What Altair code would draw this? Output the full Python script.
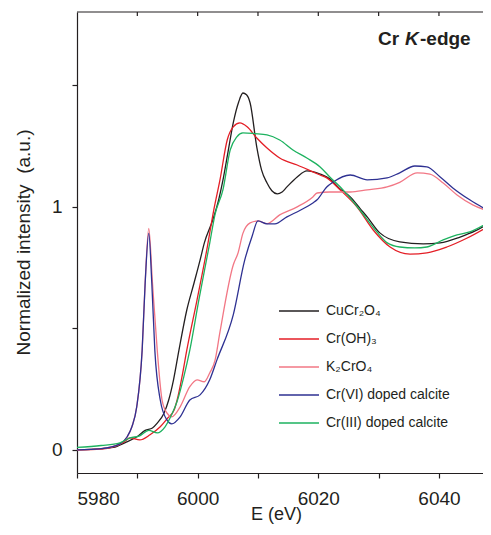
import altair as alt
import pandas as pd

# ---------------- data ----------------
series_names = ["CuCr₂O₄", "Cr(OH)₃", "K₂CrO₄", "Cr(VI) doped calcite", "Cr(III) doped calcite"]
series_colors = ["#231f20", "#e41e26", "#f27785", "#2e3192", "#1db25f"]

cucr2o4_e = [5980, 5984, 5986, 5988, 5990, 5991.3, 5992.5, 5993.3, 5994.4, 5995.2, 5996.0, 5996.9,
             5998.2, 5999.4, 6000.4, 6001.1, 6002.5, 6003.5, 6004.2, 6005.0, 6005.9, 6006.8, 6007.5,
             6008.1, 6008.7, 6009.8, 6010.6, 6011.5, 6012.3, 6013.2, 6014.0, 6014.8, 6016.5, 6018.1,
             6020.3, 6021.9, 6023.5, 6025.3, 6027.0, 6028.1, 6030.2, 6033.5, 6037.4, 6040.2, 6043.5,
             6046.0, 6048.6]
cucr2o4_i = [0.0, 0.005, 0.01, 0.03, 0.055, 0.08, 0.09, 0.11, 0.15, 0.205, 0.288, 0.41,
             0.575, 0.686, 0.78, 0.85, 0.945, 1.03, 1.11, 1.22, 1.344, 1.43, 1.467,
             1.46, 1.426, 1.245, 1.15, 1.097, 1.065, 1.052, 1.06, 1.081, 1.122, 1.147,
             1.134, 1.114, 1.075, 1.04, 0.99, 0.958, 0.892, 0.855, 0.847, 0.851, 0.875,
             0.9, 0.937]

croh3_e = [5980, 5984, 5986, 5987.8, 5988.8, 5990.4, 5992.1, 5993.8, 5995.0, 5996.1, 5996.6, 5997.4,
           5998.2, 5999.9, 6001.5, 6002.7, 6003.7, 6004.9, 6005.9, 6007.0, 6008.2, 6009.8, 6011.5,
           6013.6, 6016.5, 6019.1, 6020.3, 6021.4, 6023.6, 6026.4, 6029.1, 6031.9, 6035.2, 6038.0,
           6041.3, 6044.6, 6048.6]
croh3_i = [0.0, 0.003, 0.012, 0.033, 0.049, 0.041, 0.062, 0.095, 0.13, 0.164, 0.205, 0.3,
           0.41, 0.617, 0.82, 0.99, 1.11, 1.274, 1.328, 1.344, 1.328, 1.282, 1.241,
           1.2, 1.171, 1.143, 1.13, 1.118, 1.069, 0.999, 0.904, 0.834, 0.805, 0.81,
           0.834, 0.87, 0.925]

k2cro4_e = [5980, 5984, 5987.1, 5988.3, 5989.1, 5989.9, 5990.8, 5991.3, 5991.9, 5992.5, 5993.3, 5994.1,
            5994.9, 5995.7, 5997.1, 5998.7, 5999.9, 6001.1, 6002.0, 6002.9, 6003.7, 6005.9, 6006.7,
            6007.5, 6008.7, 6010.0, 6011.5, 6013.6, 6016.5, 6019.1, 6019.8, 6021.9, 6025.3, 6028.1,
            6031.4, 6033.5, 6036.4, 6038.5, 6040.7, 6043.0, 6045.6, 6048.6]
k2cro4_i = [0.0, 0.005, 0.025, 0.053, 0.095, 0.177, 0.41, 0.69, 0.91, 0.69, 0.41, 0.205,
            0.152, 0.136, 0.177, 0.26, 0.288, 0.28, 0.316, 0.37, 0.485, 0.76, 0.81,
            0.89, 0.933, 0.941, 0.93, 0.966, 0.999, 1.04, 1.056, 1.06, 1.06, 1.069,
            1.081, 1.1, 1.139, 1.134, 1.097, 1.048, 1.007, 0.978]

crvi_e = [5980, 5984, 5987.1, 5988.3, 5989.1, 5989.9, 5990.8, 5991.3, 5991.9, 5992.4, 5992.9, 5993.8,
          5994.9, 5995.7, 5997.1, 5998.7, 6000.4, 6002.0, 6003.2, 6005.9, 6007.8, 6009.0, 6010.0,
          6011.5, 6012.8, 6014.8, 6017.0, 6019.1, 6019.8, 6021.4, 6022.4, 6025.3, 6028.1, 6031.4,
          6033.5, 6036.0, 6038.0, 6040.2, 6042.3, 6045.1, 6048.6]
crvi_i = [0.0, 0.005, 0.025, 0.053, 0.095, 0.177, 0.41, 0.686, 0.89, 0.686, 0.41, 0.205,
          0.123, 0.107, 0.136, 0.205, 0.226, 0.288, 0.37, 0.555, 0.78, 0.876, 0.941,
          0.929, 0.929, 0.958, 0.985, 1.015, 1.028, 1.081, 1.1, 1.13, 1.11, 1.118,
          1.139, 1.167, 1.163, 1.122, 1.077, 1.028, 0.978]

criii_e = [5980, 5984, 5987.1, 5988.8, 5990.4, 5991.9, 5993.3, 5994.6, 5995.6, 5996.6, 5997.7, 5998.7,
           6000.2, 6002.0, 6002.9, 6004.2, 6005.4, 6006.5, 6007.5, 6009.5, 6011.5, 6013.6, 6015.8,
           6018.1, 6020.3, 6021.9, 6024.1, 6026.9, 6029.7, 6031.5, 6033.5, 6036.0, 6038.0, 6040.7,
           6043.0, 6045.1, 6048.6]
criii_i = [0.01, 0.018, 0.029, 0.049, 0.058, 0.08, 0.07, 0.095, 0.14, 0.2, 0.3, 0.41,
           0.617, 0.85, 0.97, 1.07, 1.233, 1.287, 1.303, 1.30, 1.295, 1.274, 1.233,
           1.2, 1.163, 1.122, 1.069, 0.986, 0.896, 0.85, 0.834, 0.83, 0.834, 0.863,
           0.884, 0.896, 0.941]

x_tick_values = [5980, 5990, 6000, 6010, 6020, 6030, 6040]
x_top_ticks = [5990, 6000, 6010, 6020, 6030, 6040]
y_tick_values = [0, 0.5, 1, 1.5]

# ---------------- build table ----------------
rows = []
for name, es, vs in zip(series_names,
                        [cucr2o4_e, croh3_e, k2cro4_e, crvi_e, criii_e],
                        [cucr2o4_i, croh3_i, k2cro4_i, crvi_i, criii_i]):
    for k, (e, v) in enumerate(zip(es, vs)):
        rows.append({"series": name, "E": e, "I": v, "k": k})
df = pd.DataFrame(rows)

W, H = 406, 461
FONT = "Liberation Sans"
x_scale = alt.Scale(domain=[5980, 6047.3], nice=False, zero=False)
y_scale = alt.Scale(domain=[-0.095, 1.80], nice=False, zero=False)

lines = alt.Chart(df).mark_line(strokeWidth=1.3, clip=True, interpolate="monotone").encode(
    x=alt.X("E:Q", scale=x_scale,
            axis=alt.Axis(values=x_tick_values, labelOverlap=False,
                          labelExpr="datum.value % 20 == 0 ? format(datum.value, 'd') : ''",
                          title="E (eV)", tickSize=5, labelPadding=11,
                          titleX=199, titleY=46, titleBaseline="alphabetic", titleFontSize=18)),
    y=alt.Y("I:Q", scale=y_scale,
            axis=alt.Axis(values=y_tick_values, labelOverlap=False,
                          labelExpr="datum.value == 0 ? '0' : (datum.value == 1 ? '1' : '')",
                          title="Normalized intensity\u00a0 (a.u.)", tickSize=5, labelPadding=10,
                          titleX=-54, titleY=230, titleBaseline="middle", titleAngle=270)),
    color=alt.Color("series:N",
                    scale=alt.Scale(domain=series_names, range=series_colors),
                    legend=alt.Legend(orient="none", legendX=201, legendY=278, title=None,
                                      symbolType="stroke", symbolSize=1600, symbolStrokeWidth=1.6,
                                      labelFont=FONT, labelFontSize=14, labelOffset=6,
                                      labelColor="#231f20", padding=0, rowPadding=-15)),
    order="k:Q",
)

top_rule = alt.Chart(pd.DataFrame({"E": [5980]})).mark_rule(color="#231f20", strokeWidth=1.2).encode(
    x=alt.value(0), x2=alt.value(W), y=alt.value(0))

top_ticks = alt.Chart(pd.DataFrame({"E": x_top_ticks})).mark_rule(color="#231f20", strokeWidth=1.2).encode(
    x=alt.X("E:Q", scale=x_scale), y=alt.value(0), y2=alt.value(4))

def label(txt, xpos, style="normal"):
    return alt.Chart(pd.DataFrame({"t": [txt]})).mark_text(
        font=FONT, fontSize=19, fontWeight="bold", fontStyle=style, align="left",
        baseline="alphabetic", color="#231f20").encode(
        text="t:N", x=alt.value(xpos), y=alt.value(33))

chart = alt.layer(
    lines, top_rule, top_ticks,
    label("Cr", 301), label("K", 328, "italic"), label("-edge", 343),
).properties(
    width=W, height=H,
    autosize=alt.AutoSizeParams(type="none"),
    padding={"left": 69, "top": 4, "right": 0, "bottom": 52},
).configure_view(stroke=None).configure_axis(
    grid=False, domainColor="#231f20", tickColor="#231f20", domainWidth=1.2, tickWidth=1.2,
    labelFont=FONT, labelFontSize=19, labelColor="#231f20",
    titleFont=FONT, titleFontSize=19, titleFontWeight="normal", titleColor="#231f20",
)

chart.save("out.html", embed_options={"renderer": "svg", "actions": False})
